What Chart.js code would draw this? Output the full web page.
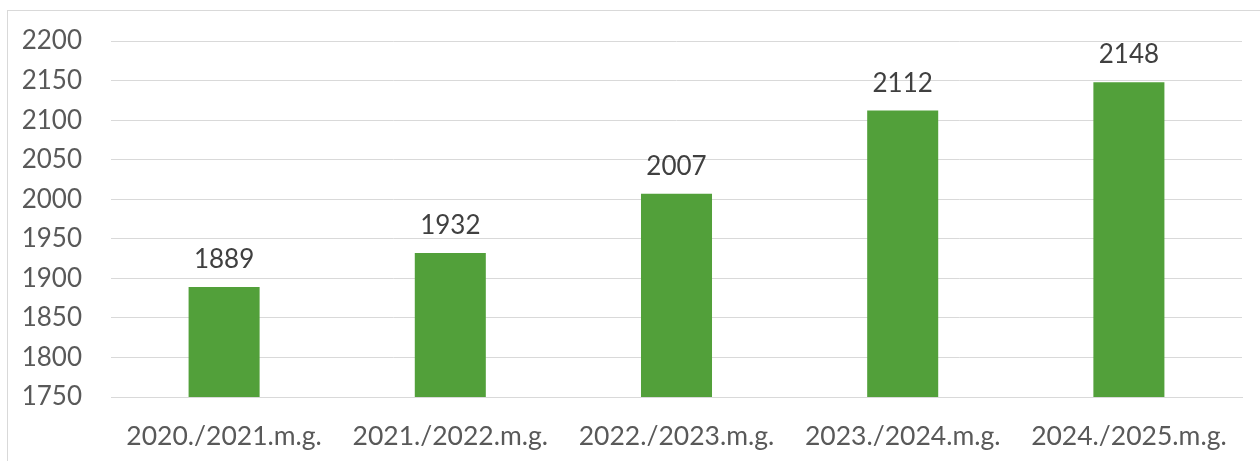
<!DOCTYPE html>
<html>
<head>
<meta charset="utf-8">
<script src="https://cdn.jsdelivr.net/npm/chart.js@4"></script>
<style>
  html, body { margin:0; padding:0; background:#fff; }
  #wrap { position:relative; width:1260px; height:461px; overflow:hidden; }
  #frame { position:absolute; left:7px; top:10px; width:1300px; height:500px; border:1px solid #d9d9d9; box-sizing:border-box; }
  canvas { position:absolute; left:0; top:0; }
</style>
</head>
<body>
<div id="wrap">
  <div id="frame"></div>
  <canvas id="ch" width="1260" height="461"></canvas>
</div>
<script>
const years  = ['2020./2021.m.g.','2021./2022.m.g.','2022./2023.m.g.','2023./2024.m.g.','2024./2025.m.g.'];
const counts = [1889, 1932, 2007, 2112, 2148];
const yMin = 1750, yMax = 2200, yStep = 50;

const FONT = 'Lato, "Open Sans", sans-serif';

// value labels above each bar
const barLabels = {
  id: 'barLabels',
  afterDatasetsDraw(chart) {
    const ctx = chart.ctx;
    const meta = chart.getDatasetMeta(0);
    ctx.save();
    ctx.font = '26px ' + FONT;
    ctx.fillStyle = '#404040';
    ctx.textAlign = 'center';
    ctx.textBaseline = 'alphabetic';
    meta.data.forEach((bar, i) => {
      ctx.fillText(String(counts[i]), bar.x, bar.y - 19);
    });
    ctx.restore();
  }
};

new Chart(document.getElementById('ch'), {
  type: 'bar',
  data: {
    labels: years,
    datasets: [{
      data: counts,
      backgroundColor: '#52a03a',
      borderWidth: 0,
      categoryPercentage: 1,
      barPercentage: 0.314
    }]
  },
  options: {
    responsive: false,
    animation: false,
    layout: { padding: { left: 0, right: 18, top: 41, bottom: 0 } },
    plugins: { legend: { display: false }, tooltip: { enabled: false } },
    scales: {
      x: {
        grid: { display: false, drawTicks: false },
        border: { display: true, color: '#d9d9d9', width: 1 },
        ticks: { color: '#595959', font: { family: FONT, size: 26.5 }, padding: 24, maxRotation: 0 },
        afterFit(s) { s.height = 64; }
      },
      y: {
        min: yMin, max: yMax,
        grid: { color: '#d9d9d9', lineWidth: 1, drawTicks: false },
        border: { display: false },
        ticks: { stepSize: yStep, color: '#595959', font: { family: FONT, size: 26 }, padding: 29,
          callback: v => String(v) },
        afterFit(s) { s.width = 111; s.paddingTop = 0; s.paddingBottom = 0; }
      }
    }
  },
  plugins: [barLabels]
});
</script>
</body>
</html>
